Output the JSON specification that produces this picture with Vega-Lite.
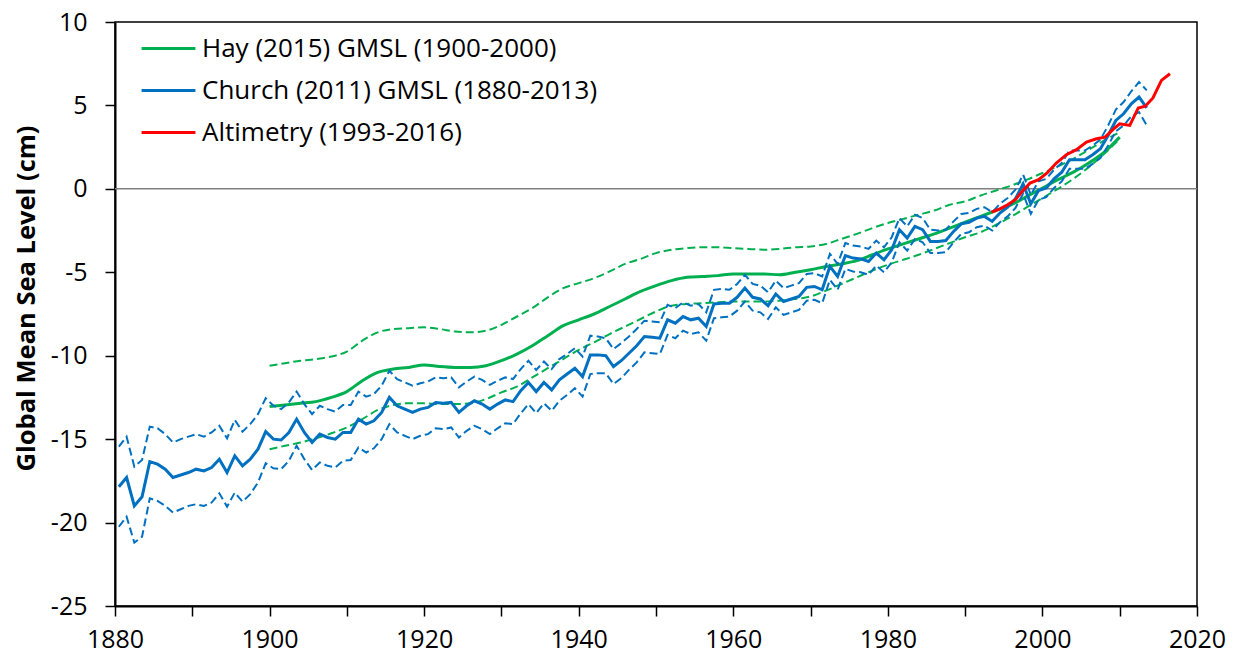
{
  "$schema": "https://vega.github.io/schema/vega-lite/v6.json",
  "width": 1082,
  "height": 584,
  "autosize": {"type": "none"},
  "padding": {"left": 115, "top": 22, "right": 39, "bottom": 50},
  "background": "white",
  "config": {
    "font": "Open Sans",
    "view": {"stroke": "black", "strokeWidth": 1.5},
    "axis": {"grid": false, "domainColor": "black", "domainWidth": 2, "tickColor": "black", "tickWidth": 1.5, "labelColor": "black", "labelFont": "Open Sans", "labelFontSize": 25, "titleColor": "black", "titleFont": "Open Sans"},
    "legend": {"orient": "none", "legendX": 25, "legendY": -2, "symbolType": "stroke", "symbolSize": 2900, "symbolStrokeWidth": 3, "symbolDash": [], "labelFont": "Open Sans", "labelFontSize": 26, "labelColor": "black", "labelLimit": 0, "rowPadding": 0, "labelOffset": 5}
  },
  "datasets": {
    "church": [
      {"year":1880.5,"m":-17.85,"u":-15.45,"l":-20.25},
      {"year":1881.5,"m":-17.3,"u":-14.85,"l":-19.65},
      {"year":1882.5,"m":-19.0,"u":-16.65,"l":-21.2},
      {"year":1883.5,"m":-18.45,"u":-16.25,"l":-20.85},
      {"year":1884.5,"m":-16.35,"u":-14.25,"l":-18.55},
      {"year":1885.5,"m":-16.5,"u":-14.35,"l":-18.7},
      {"year":1886.5,"m":-16.8,"u":-14.7,"l":-19.0},
      {"year":1887.5,"m":-17.3,"u":-15.2,"l":-19.4},
      {"year":1888.5,"m":-17.15,"u":-15.0,"l":-19.2},
      {"year":1889.5,"m":-17.0,"u":-14.85,"l":-19.0},
      {"year":1890.5,"m":-16.8,"u":-14.7,"l":-18.9},
      {"year":1891.5,"m":-16.9,"u":-14.85,"l":-19.0},
      {"year":1892.5,"m":-16.7,"u":-14.6,"l":-18.8},
      {"year":1893.5,"m":-16.2,"u":-14.2,"l":-18.25},
      {"year":1894.5,"m":-17.0,"u":-14.95,"l":-19.05},
      {"year":1895.5,"m":-16.0,"u":-13.85,"l":-18.2},
      {"year":1896.5,"m":-16.6,"u":-14.55,"l":-18.75},
      {"year":1897.5,"m":-16.2,"u":-14.1,"l":-18.3},
      {"year":1898.5,"m":-15.6,"u":-13.5,"l":-17.6},
      {"year":1899.5,"m":-14.55,"u":-12.55,"l":-16.45},
      {"year":1900.5,"m":-15.0,"u":-13.0,"l":-16.75},
      {"year":1901.5,"m":-15.05,"u":-13.2,"l":-16.8},
      {"year":1902.5,"m":-14.6,"u":-12.8,"l":-16.3},
      {"year":1903.5,"m":-13.8,"u":-12.15,"l":-15.4},
      {"year":1904.5,"m":-14.6,"u":-12.9,"l":-16.2},
      {"year":1905.5,"m":-15.2,"u":-13.5,"l":-16.85},
      {"year":1906.5,"m":-14.7,"u":-13.0,"l":-16.4},
      {"year":1907.5,"m":-14.9,"u":-13.2,"l":-16.6},
      {"year":1908.5,"m":-15.0,"u":-13.35,"l":-16.7},
      {"year":1909.5,"m":-14.6,"u":-12.95,"l":-16.3},
      {"year":1910.5,"m":-14.6,"u":-12.95,"l":-16.25},
      {"year":1911.5,"m":-13.8,"u":-12.15,"l":-15.5},
      {"year":1912.5,"m":-14.1,"u":-12.45,"l":-15.8},
      {"year":1913.5,"m":-13.9,"u":-12.3,"l":-15.55},
      {"year":1914.5,"m":-13.4,"u":-11.8,"l":-15.0},
      {"year":1915.5,"m":-12.5,"u":-10.9,"l":-14.1},
      {"year":1916.5,"m":-13.0,"u":-11.4,"l":-14.6},
      {"year":1917.5,"m":-13.2,"u":-11.6,"l":-14.8},
      {"year":1918.5,"m":-13.4,"u":-11.8,"l":-15.0},
      {"year":1919.5,"m":-13.2,"u":-11.65,"l":-14.8},
      {"year":1920.5,"m":-13.1,"u":-11.55,"l":-14.7},
      {"year":1921.5,"m":-12.8,"u":-11.3,"l":-14.35},
      {"year":1922.5,"m":-12.85,"u":-11.35,"l":-14.4},
      {"year":1923.5,"m":-12.8,"u":-11.3,"l":-14.3},
      {"year":1924.5,"m":-13.4,"u":-11.9,"l":-14.9},
      {"year":1925.5,"m":-13.0,"u":-11.55,"l":-14.5},
      {"year":1926.5,"m":-12.7,"u":-11.25,"l":-14.2},
      {"year":1927.5,"m":-12.9,"u":-11.45,"l":-14.4},
      {"year":1928.5,"m":-13.2,"u":-11.75,"l":-14.7},
      {"year":1929.5,"m":-12.9,"u":-11.5,"l":-14.35},
      {"year":1930.5,"m":-12.65,"u":-11.3,"l":-14.05},
      {"year":1931.5,"m":-12.75,"u":-11.4,"l":-14.1},
      {"year":1932.5,"m":-12.1,"u":-10.8,"l":-13.45},
      {"year":1933.5,"m":-11.6,"u":-10.3,"l":-12.9},
      {"year":1934.5,"m":-12.15,"u":-10.85,"l":-13.45},
      {"year":1935.5,"m":-11.6,"u":-10.35,"l":-12.85},
      {"year":1936.5,"m":-12.05,"u":-10.8,"l":-13.3},
      {"year":1937.5,"m":-11.45,"u":-10.2,"l":-12.7},
      {"year":1938.5,"m":-11.1,"u":-9.9,"l":-12.35},
      {"year":1939.5,"m":-10.75,"u":-9.55,"l":-11.95},
      {"year":1940.5,"m":-11.25,"u":-10.05,"l":-12.45},
      {"year":1941.5,"m":-9.95,"u":-8.8,"l":-11.1},
      {"year":1942.5,"m":-9.95,"u":-8.85,"l":-11.05},
      {"year":1943.5,"m":-10.0,"u":-8.95,"l":-11.05},
      {"year":1944.5,"m":-10.65,"u":-9.6,"l":-11.7},
      {"year":1945.5,"m":-10.3,"u":-9.25,"l":-11.35},
      {"year":1946.5,"m":-9.85,"u":-8.85,"l":-10.85},
      {"year":1947.5,"m":-9.4,"u":-8.4,"l":-10.4},
      {"year":1948.5,"m":-8.85,"u":-7.9,"l":-9.8},
      {"year":1949.5,"m":-8.9,"u":-7.95,"l":-9.85},
      {"year":1950.5,"m":-8.95,"u":-8.0,"l":-9.9},
      {"year":1951.5,"m":-7.85,"u":-6.95,"l":-8.75},
      {"year":1952.5,"m":-8.05,"u":-7.15,"l":-8.95},
      {"year":1953.5,"m":-7.65,"u":-6.8,"l":-8.5},
      {"year":1954.5,"m":-7.85,"u":-7.0,"l":-8.7},
      {"year":1955.5,"m":-7.75,"u":-6.9,"l":-8.6},
      {"year":1956.5,"m":-8.25,"u":-7.4,"l":-9.1},
      {"year":1957.5,"m":-6.9,"u":-6.05,"l":-7.75},
      {"year":1958.5,"m":-6.85,"u":-6.0,"l":-7.7},
      {"year":1959.5,"m":-6.85,"u":-6.05,"l":-7.65},
      {"year":1960.5,"m":-6.5,"u":-5.7,"l":-7.3},
      {"year":1961.5,"m":-5.95,"u":-5.15,"l":-6.75},
      {"year":1962.5,"m":-6.5,"u":-5.7,"l":-7.3},
      {"year":1963.5,"m":-6.6,"u":-5.8,"l":-7.4},
      {"year":1964.5,"m":-7.0,"u":-6.2,"l":-7.8},
      {"year":1965.5,"m":-6.3,"u":-5.5,"l":-7.1},
      {"year":1966.5,"m":-6.75,"u":-5.95,"l":-7.55},
      {"year":1967.5,"m":-6.6,"u":-5.8,"l":-7.4},
      {"year":1968.5,"m":-6.45,"u":-5.65,"l":-7.25},
      {"year":1969.5,"m":-5.9,"u":-5.1,"l":-6.7},
      {"year":1970.5,"m":-5.85,"u":-5.05,"l":-6.65},
      {"year":1971.5,"m":-6.05,"u":-5.25,"l":-6.85},
      {"year":1972.5,"m":-4.65,"u":-3.9,"l":-5.45},
      {"year":1973.5,"m":-5.25,"u":-4.5,"l":-6.05},
      {"year":1974.5,"m":-4.0,"u":-3.25,"l":-4.8},
      {"year":1975.5,"m":-4.15,"u":-3.4,"l":-4.95},
      {"year":1976.5,"m":-4.2,"u":-3.45,"l":-5.0},
      {"year":1977.5,"m":-4.35,"u":-3.6,"l":-5.15},
      {"year":1978.5,"m":-3.85,"u":-3.1,"l":-4.6},
      {"year":1979.5,"m":-4.25,"u":-3.5,"l":-5.0},
      {"year":1980.5,"m":-3.65,"u":-2.9,"l":-4.4},
      {"year":1981.5,"m":-2.45,"u":-1.75,"l":-3.2},
      {"year":1982.5,"m":-2.95,"u":-2.25,"l":-3.7},
      {"year":1983.5,"m":-2.25,"u":-1.55,"l":-3.0},
      {"year":1984.5,"m":-2.45,"u":-1.75,"l":-3.2},
      {"year":1985.5,"m":-3.15,"u":-2.45,"l":-3.85},
      {"year":1986.5,"m":-3.15,"u":-2.5,"l":-3.85},
      {"year":1987.5,"m":-3.1,"u":-2.45,"l":-3.8},
      {"year":1988.5,"m":-2.55,"u":-1.95,"l":-3.2},
      {"year":1989.5,"m":-2.1,"u":-1.5,"l":-2.7},
      {"year":1990.5,"m":-2.0,"u":-1.45,"l":-2.6},
      {"year":1991.5,"m":-1.75,"u":-1.2,"l":-2.3},
      {"year":1992.5,"m":-1.65,"u":-1.1,"l":-2.2},
      {"year":1993.5,"m":-1.95,"u":-1.4,"l":-2.5},
      {"year":1994.5,"m":-1.45,"u":-0.9,"l":-2.0},
      {"year":1995.5,"m":-1.1,"u":-0.55,"l":-1.65},
      {"year":1996.5,"m":-0.6,"u":-0.05,"l":-1.15},
      {"year":1997.5,"m":0.3,"u":0.85,"l":-0.3},
      {"year":1998.5,"m":-0.9,"u":-0.35,"l":-1.5},
      {"year":1999.5,"m":-0.1,"u":0.45,"l":-0.65},
      {"year":2000.5,"m":0.05,"u":0.6,"l":-0.5},
      {"year":2001.5,"m":0.6,"u":1.15,"l":0.05},
      {"year":2002.5,"m":1.0,"u":1.55,"l":0.45},
      {"year":2003.5,"m":1.75,"u":2.3,"l":1.2},
      {"year":2004.5,"m":1.75,"u":2.3,"l":1.2},
      {"year":2005.5,"m":1.75,"u":2.3,"l":1.2},
      {"year":2006.5,"m":2.05,"u":2.6,"l":1.5},
      {"year":2007.5,"m":2.4,"u":2.95,"l":1.85},
      {"year":2008.5,"m":3.2,"u":3.8,"l":2.6},
      {"year":2009.5,"m":4.1,"u":4.75,"l":3.45},
      {"year":2010.5,"m":4.5,"u":5.2,"l":3.8},
      {"year":2011.5,"m":5.1,"u":5.85,"l":4.35},
      {"year":2012.5,"m":5.5,"u":6.4,"l":4.6},
      {"year":2013.5,"m":4.85,"u":5.9,"l":3.8}
    ],
    "hay": [
      {"year":1900,"m":-13.05,"u":-10.6,"l":-15.6},
      {"year":1902,"m":-12.95,"u":-10.45,"l":-15.4},
      {"year":1904,"m":-12.85,"u":-10.3,"l":-15.2},
      {"year":1906,"m":-12.75,"u":-10.2,"l":-14.95},
      {"year":1908,"m":-12.5,"u":-10.05,"l":-14.65},
      {"year":1910,"m":-12.15,"u":-9.75,"l":-14.3},
      {"year":1912,"m":-11.5,"u":-9.1,"l":-13.8},
      {"year":1914,"m":-11.0,"u":-8.6,"l":-13.25},
      {"year":1916,"m":-10.8,"u":-8.4,"l":-12.95},
      {"year":1918,"m":-10.7,"u":-8.35,"l":-12.85},
      {"year":1920,"m":-10.55,"u":-8.3,"l":-12.85},
      {"year":1922,"m":-10.65,"u":-8.4,"l":-12.9},
      {"year":1924,"m":-10.7,"u":-8.55,"l":-12.9},
      {"year":1926,"m":-10.7,"u":-8.6,"l":-12.85},
      {"year":1928,"m":-10.6,"u":-8.5,"l":-12.6},
      {"year":1930,"m":-10.3,"u":-8.15,"l":-12.2},
      {"year":1932,"m":-9.9,"u":-7.65,"l":-11.85},
      {"year":1934,"m":-9.4,"u":-7.15,"l":-11.3},
      {"year":1936,"m":-8.8,"u":-6.5,"l":-10.75},
      {"year":1938,"m":-8.2,"u":-5.95,"l":-10.2},
      {"year":1940,"m":-7.85,"u":-5.65,"l":-9.65},
      {"year":1942,"m":-7.5,"u":-5.35,"l":-9.2},
      {"year":1944,"m":-7.05,"u":-4.95,"l":-8.7},
      {"year":1946,"m":-6.6,"u":-4.5,"l":-8.25},
      {"year":1948,"m":-6.15,"u":-4.2,"l":-7.8},
      {"year":1950,"m":-5.8,"u":-3.85,"l":-7.35},
      {"year":1952,"m":-5.5,"u":-3.65,"l":-7.0},
      {"year":1954,"m":-5.3,"u":-3.55,"l":-6.9},
      {"year":1956,"m":-5.25,"u":-3.5,"l":-6.85},
      {"year":1958,"m":-5.2,"u":-3.5,"l":-6.8},
      {"year":1960,"m":-5.1,"u":-3.55,"l":-6.75},
      {"year":1962,"m":-5.1,"u":-3.6,"l":-6.75},
      {"year":1964,"m":-5.1,"u":-3.65,"l":-6.75},
      {"year":1966,"m":-5.15,"u":-3.6,"l":-6.7},
      {"year":1968,"m":-5.0,"u":-3.5,"l":-6.6},
      {"year":1970,"m":-4.85,"u":-3.45,"l":-6.45},
      {"year":1972,"m":-4.65,"u":-3.3,"l":-6.1},
      {"year":1974,"m":-4.5,"u":-3.0,"l":-5.7},
      {"year":1976,"m":-4.3,"u":-2.7,"l":-5.3},
      {"year":1978,"m":-3.95,"u":-2.35,"l":-4.9},
      {"year":1980,"m":-3.6,"u":-2.05,"l":-4.55},
      {"year":1982,"m":-3.3,"u":-1.8,"l":-4.25},
      {"year":1984,"m":-3.0,"u":-1.55,"l":-3.95},
      {"year":1986,"m":-2.7,"u":-1.3,"l":-3.6},
      {"year":1988,"m":-2.35,"u":-0.95,"l":-3.25},
      {"year":1990,"m":-2.0,"u":-0.75,"l":-2.9},
      {"year":1992,"m":-1.65,"u":-0.4,"l":-2.6},
      {"year":1994,"m":-1.3,"u":-0.1,"l":-2.15},
      {"year":1996,"m":-0.95,"u":0.2,"l":-1.65},
      {"year":1998,"m":-0.45,"u":0.55,"l":-1.1},
      {"year":2000,"m":0.05,"u":0.95,"l":-0.55},
      {"year":2002,"m":0.55,"u":1.35,"l":0.0},
      {"year":2004,"m":1.0,"u":1.8,"l":0.6},
      {"year":2006,"m":1.55,"u":2.35,"l":1.3},
      {"year":2008,"m":2.2,"u":2.9,"l":2.1},
      {"year":2010,"m":3.1,"u":3.4,"l":3.0}
    ],
    "alt": [
      {"year":1993.4,"m":-1.4},
      {"year":1994.5,"m":-1.2},
      {"year":1995.5,"m":-0.95},
      {"year":1996.5,"m":-0.65},
      {"year":1997.4,"m":-0.15},
      {"year":1998.4,"m":0.35},
      {"year":1999.5,"m":0.55},
      {"year":2000.6,"m":0.95},
      {"year":2001.8,"m":1.55},
      {"year":2003.1,"m":2.05},
      {"year":2004.4,"m":2.35},
      {"year":2005.7,"m":2.8},
      {"year":2007.0,"m":3.0},
      {"year":2008.1,"m":3.1},
      {"year":2009.1,"m":3.55},
      {"year":2010.0,"m":3.9},
      {"year":2011.3,"m":3.8},
      {"year":2012.4,"m":4.85},
      {"year":2013.3,"m":4.95},
      {"year":2014.3,"m":5.45},
      {"year":2015.4,"m":6.5},
      {"year":2016.5,"m":6.9}
    ]
  },
  "encoding": {
    "x": {
      "field": "year", "type": "quantitative",
      "scale": {"domain": [1880, 2020], "nice": false, "zero": false},
      "axis": {"title": null, "values": [1880,1890,1900,1910,1920,1930,1940,1950,1960,1970,1980,1990,2000,2010,2020], "labelExpr": "datum.value % 20 == 0 ? '' + datum.value : ''", "tickSize": 10, "labelPadding": 11, "labelFlush": false, "labelOverlap": false}
    }
  },
  "layer": [
    {
      "data": {"values": [{"z": 0}]},
      "mark": {"type": "rule", "color": "#808080", "strokeWidth": 1.5},
      "encoding": {"x": null, "y": {"field": "z", "type": "quantitative"}}
    },
    {
      "data": {"name": "hay"},
      "mark": {"type": "line", "strokeWidth": 2, "strokeDash": [8, 4], "interpolate": "monotone"},
      "encoding": {"y": {"field": "u", "type": "quantitative"}, "color": {"datum": "Hay (2015) GMSL (1900-2000)"}}
    },
    {
      "data": {"name": "hay"},
      "mark": {"type": "line", "strokeWidth": 2, "strokeDash": [8, 4], "interpolate": "monotone"},
      "encoding": {"y": {"field": "l", "type": "quantitative"}, "color": {"datum": "Hay (2015) GMSL (1900-2000)"}}
    },
    {
      "data": {"name": "hay"},
      "mark": {"type": "line", "strokeWidth": 3, "interpolate": "monotone"},
      "encoding": {"y": {"field": "m", "type": "quantitative"}, "color": {"datum": "Hay (2015) GMSL (1900-2000)"}}
    },
    {
      "data": {"name": "church"},
      "mark": {"type": "line", "strokeWidth": 2, "strokeDash": [8, 4]},
      "encoding": {"y": {"field": "u", "type": "quantitative"}, "color": {"datum": "Church (2011) GMSL (1880-2013)"}}
    },
    {
      "data": {"name": "church"},
      "mark": {"type": "line", "strokeWidth": 2, "strokeDash": [8, 4]},
      "encoding": {"y": {"field": "l", "type": "quantitative"}, "color": {"datum": "Church (2011) GMSL (1880-2013)"}}
    },
    {
      "data": {"name": "church"},
      "mark": {"type": "line", "strokeWidth": 3},
      "encoding": {"y": {"field": "m", "type": "quantitative"}, "color": {"datum": "Church (2011) GMSL (1880-2013)"}}
    },
    {
      "data": {"name": "alt"},
      "mark": {"type": "line", "strokeWidth": 3},
      "encoding": {
        "y": {"field": "m", "type": "quantitative",
          "scale": {"domain": [-25, 10], "nice": false, "zero": false},
          "axis": {"title": "Global Mean Sea Level (cm)", "titleFontSize": 25.5, "titleFontWeight": "bold", "titlePadding": 11, "titleY": 276, "values": [-25,-20,-15,-10,-5,0,5,10], "labelExpr": "'' + datum.value", "tickSize": 10, "labelPadding": 18}},
        "color": {"datum": "Altimetry (1993-2016)", "type": "nominal",
          "scale": {"domain": ["Hay (2015) GMSL (1900-2000)", "Church (2011) GMSL (1880-2013)", "Altimetry (1993-2016)"], "range": ["#00B050", "#0070C0", "#FF0000"]},
          "legend": {"title": null}}
      }
    }
  ]
}
